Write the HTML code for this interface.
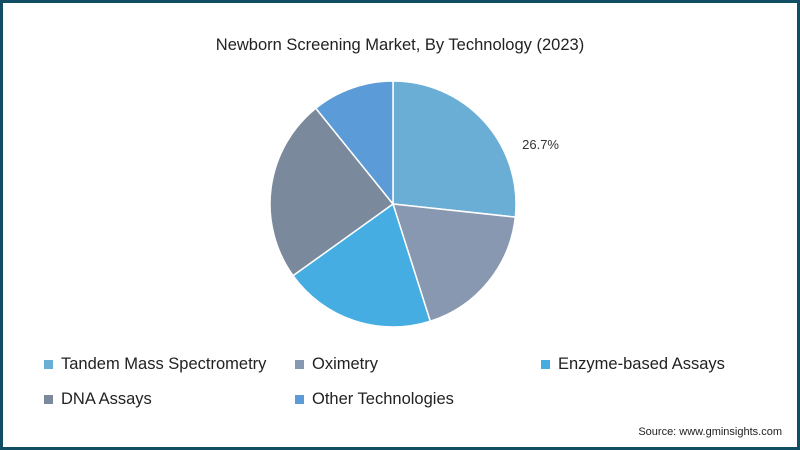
<!DOCTYPE html>
<html><head><meta charset="utf-8"><style>
body{margin:0;width:800px;height:450px;overflow:hidden;background:#fff;font-family:"Liberation Sans",sans-serif}
#frame{position:absolute;left:0;top:0;width:794px;height:444px;border:3px solid #124e63;background:#fff}
.title{position:absolute;top:36px;left:0;width:800px;text-align:center;font-size:16.5px;color:#222}
.leg{position:absolute;font-size:16.5px;color:#222;display:flex;align-items:center}
.leg span.sw{width:9px;height:9px;margin-right:8px;display:inline-block}
.src{position:absolute;right:18px;top:426px;font-size:11px;color:#222}
</style></head><body>
<div id="frame"></div>
<div class="title">Newborn Screening Market, By Technology (2023)</div>
<svg id="pie" width="800" height="450" style="position:absolute;left:0;top:0"></svg>
<div class="leg" style="left:44px;top:355px"><span class="sw" style="background:#6aaed6"></span>Tandem Mass Spectrometry</div>
<div class="leg" style="left:295px;top:355px"><span class="sw" style="background:#8898b0"></span>Oximetry</div>
<div class="leg" style="left:541px;top:355px"><span class="sw" style="background:#45ade2"></span>Enzyme-based Assays</div>
<div class="leg" style="left:44px;top:390px"><span class="sw" style="background:#7a8a9c"></span>DNA Assays</div>
<div class="leg" style="left:295px;top:390px"><span class="sw" style="background:#5b9bd8"></span>Other Technologies</div>
<div class="src">Source: www.gminsights.com</div>
<script>
const categories=["Tandem Mass Spectrometry","Oximetry","Enzyme-based Assays","DNA Assays","Other Technologies"];
const values=[26.7,18.4,20.0,24.1,10.8];
const colors=["#6aaed6","#8898b0","#45ade2","#7a8a9c","#5b9bd8"];
const svg=document.getElementById('pie');
const cx=393,cy=204,r=123;
const total=values.reduce((a,b)=>a+b,0);
let acc=0;
function pt(f){const a=f*2*Math.PI;return [cx+r*Math.sin(a),cy-r*Math.cos(a)];}
values.forEach((v,i)=>{
  const f0=acc/total,f1=(acc+v)/total;acc+=v;
  const [x0,y0]=pt(f0),[x1,y1]=pt(f1);
  const p=document.createElementNS('http://www.w3.org/2000/svg','path');
  p.setAttribute('d',`M${cx},${cy}L${x0},${y0}A${r},${r} 0 ${f1-f0>0.5?1:0} 1 ${x1},${y1}Z`);
  p.setAttribute('fill',colors[i]);p.setAttribute('stroke','#fff');p.setAttribute('stroke-width','1.5');
  
  
  svg.appendChild(p);
  if(i===0){
    const a=(f0+(f1-f0)*0.7)*2*Math.PI;
    const t=document.createElementNS('http://www.w3.org/2000/svg','text');
    t.setAttribute('x',cx+(r+17)*Math.sin(a));t.setAttribute('y',cy-(r+17)*Math.cos(a)-1);
    t.setAttribute('font-size','13');t.setAttribute('fill','#333');t.setAttribute('font-family','Liberation Sans, sans-serif');
    t.setAttribute('text-anchor','start');
    t.textContent=v.toFixed(1)+'%';
    
    
    svg.appendChild(t);
  }
});
</script>
</body></html>
